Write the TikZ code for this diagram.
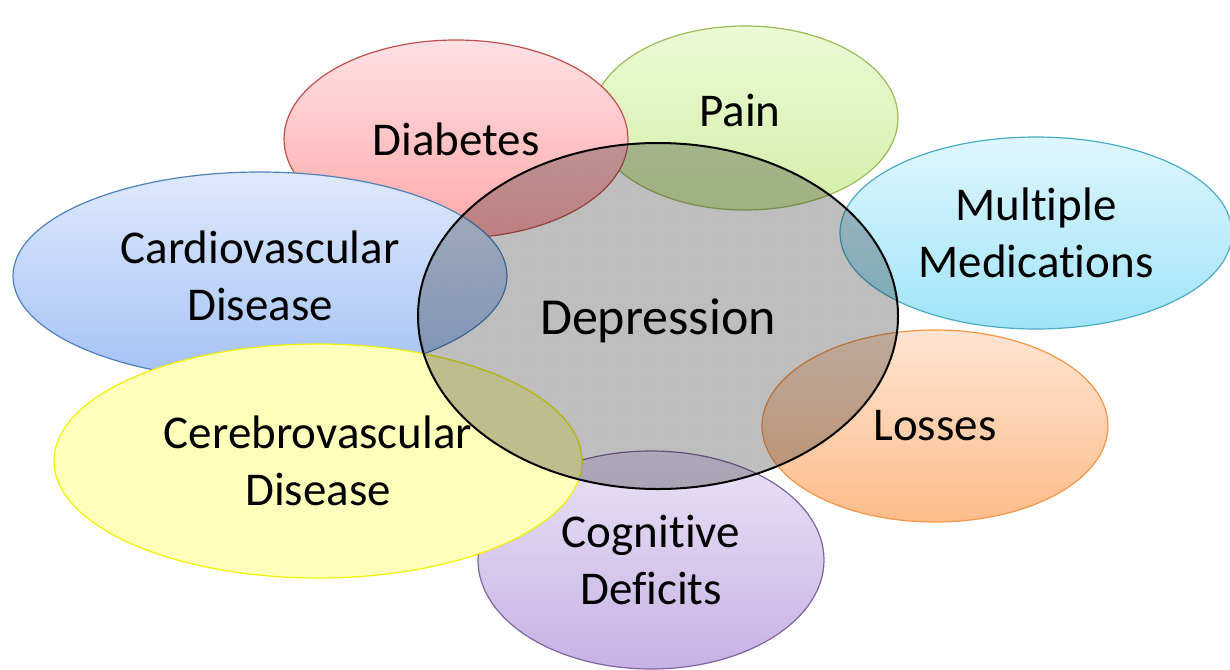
\documentclass[tikz,border=0pt]{standalone}
\usepackage{fontspec}
\setmainfont[Ligatures={NoCommon}]{Carlito}
\usetikzlibrary{shapes.geometric,patterns}
\definecolor{redB}{HTML}{C0504D}
\definecolor{greenB}{HTML}{9BBB59}
\definecolor{cyanB}{HTML}{4BACC6}
\definecolor{orangeB}{HTML}{F79646}
\definecolor{purpleB}{HTML}{8064A2}
\definecolor{blueB}{HTML}{4F81BD}
\definecolor{yellowB}{HTML}{F2F200}
\tikzset{
  bubble/.style={ellipse, inner sep=0pt, line width=1.2pt, align=center,
    font=\fontsize{47}{57}\selectfont, text=black},
  lbl/.style={inner sep=0pt, align=center, font=\fontsize{47}{57}\selectfont, text=black},
}
\begin{document}
\begin{tikzpicture}[x=1pt,y=-1pt]
\useasboundingbox (0,0) rectangle (1230,669);
\node[bubble, draw=greenB, top color={rgb,255:red,236;green,250;blue,214}, bottom color={rgb,255:red,212;green,238;blue,168},
  minimum width=306, minimum height=184] (pain) at (745,118) {};
\node[lbl] (painlbl) at (740,111) {Pain};
\node[bubble, draw=cyanB, top color={rgb,255:red,222;green,246;blue,254}, bottom color={rgb,255:red,160;green,228;blue,248},
  minimum width=392, minimum height=192] (meds) at (1036,233) {Multiple\\Medications};
\node[bubble, draw=orangeB, top color={rgb,255:red,255;green,228;blue,210}, bottom color={rgb,255:red,252;green,188;blue,138},
  minimum width=346, minimum height=192] (losses) at (935,426) {Losses};
\node[bubble, draw=purpleB, top color={rgb,255:red,234;green,226;blue,246}, bottom color={rgb,255:red,198;green,178;blue,228},
  minimum width=346, minimum height=218] (cog) at (651,560) {Cognitive\\Deficits};
\node[bubble, draw=redB, top color={rgb,255:red,255;green,224;blue,228}, bottom color={rgb,255:red,255;green,168;blue,168},
  minimum width=344, minimum height=198] (diab) at (456,139) {Diabetes};
\node[bubble, draw=blueB, top color={rgb,255:red,222;green,233;blue,252}, bottom color={rgb,255:red,164;green,194;blue,246},
  minimum width=494, minimum height=208] (cardio) at (260,276) {Cardiovascular\\Disease};
\node[bubble, draw=yellowB, fill={rgb,255:red,255;green,255;blue,188},
  minimum width=528, minimum height=234] (cerebro) at (318,461) {Cerebrovascular\\Disease};
\node[bubble, draw=black, line width=2pt, fill=black, fill opacity=0.25,
  postaction={pattern=crosshatch dots, pattern color=black!35},
  minimum width=480, minimum height=346] (dep) at (658,316) {};
\node[lbl, font=\fontsize{52}{62}\selectfont] (deplbl) at (658,321) {Depression};
\end{tikzpicture}
\end{document}
